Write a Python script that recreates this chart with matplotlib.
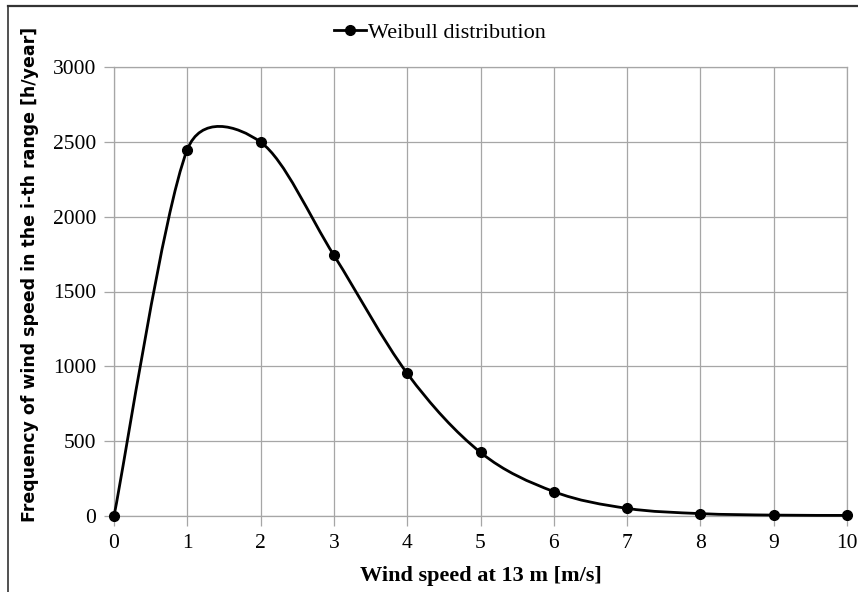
import numpy as np
import matplotlib
matplotlib.use("Agg")
import matplotlib.pyplot as plt
from matplotlib.path import Path
from matplotlib.patches import PathPatch
from matplotlib.lines import Line2D

# data
wind_speed = [0, 1, 2, 3, 4, 5, 6, 7, 8, 9, 10]
hours = [0, 2448, 2498, 1742, 953, 425, 163, 51, 16, 6, 4]
x_ticks = [0, 1, 2, 3, 4, 5, 6, 7, 8, 9, 10]
y_ticks = [0, 500, 1000, 1500, 2000, 2500, 3000]

serif = "Liberation Serif"
grid_col = "#a6a6a6"


def smooth_path(ax, xs, ys, k=1 / 6.0):
    # excel-like smoothed line, worked out in pixel space then mapped back
    tr = ax.transData
    pts = tr.transform(np.column_stack([xs, ys]).astype(float))
    n = len(pts)
    verts = [pts[0]]
    codes = [Path.MOVETO]
    for i in range(n - 1):
        p_prev = pts[i - 1] if i > 0 else pts[i]
        p_next2 = pts[i + 2] if i + 2 < n else pts[i + 1]
        chord = np.hypot(*(pts[i + 1] - pts[i]))
        a1 = k * (pts[i + 1] - p_prev)
        a2 = k * (p_next2 - pts[i])
        for a in (a1, a2):
            L = np.hypot(*a)
            if L > 0.5 * chord:
                a *= 0.5 * chord / L
        verts += [pts[i] + a1, pts[i + 1] - a2, pts[i + 1]]
        codes += [Path.CURVE4] * 3
    verts = tr.inverted().transform(np.array(verts))
    return Path(verts, codes)


fig = plt.figure(figsize=(8.58, 5.92), dpi=100)
ax = fig.add_axes([114 / 858, 1 - 516 / 592, 733 / 858, 449 / 592])
ax.set_xlim(0, 10)
ax.set_ylim(0, 3000)

ax.add_patch(PathPatch(smooth_path(ax, wind_speed, hours), fill=False,
                       edgecolor="black", lw=2.0, zorder=3, clip_on=False))
ax.plot(wind_speed, hours, linestyle="none", marker="o", ms=7,
        color="black", zorder=4, clip_on=False)

ax.set_xticks(x_ticks)
ax.set_yticks(y_ticks)
ax.grid(True, color=grid_col, lw=0.9)
ax.set_axisbelow(True)
for s in ax.spines.values():
    s.set_color(grid_col)
    s.set_linewidth(0.9)
ax.tick_params(axis="both", colors=grid_col, length=7, width=0.9,
               labelcolor="black", labelsize=15.5)
ax.tick_params(axis="y", pad=6)
ax.tick_params(axis="x", pad=6)
for lab in ax.get_xticklabels() + ax.get_yticklabels():
    lab.set_fontfamily(serif)

ax.set_xlabel("Wind speed at 13 m [m/s]", fontfamily=serif, fontweight="bold",
              fontsize=16, labelpad=9)
fig.text(30 / 858, 1 - 274 / 592,
         "Frequency of wind speed in the i-th range [h/year]",
         rotation=90, ha="center", va="center", fontsize=12.5,
         fontweight="bold", fontfamily="DejaVu Sans")

handle = Line2D([], [], color="black", lw=2.0, marker="o", ms=7)
fig.legend([handle], ["Weibull distribution"], loc="center",
           bbox_to_anchor=(440 / 858, 1 - 33 / 592), frameon=False,
           prop={"family": serif, "size": 16}, handlelength=1.4,
           handletextpad=0.1)

# outer frame (only left and top visible in the crop)
fig.add_artist(Line2D([8 / 858, 8 / 858], [0, 1 - 6 / 592],
                      transform=fig.transFigure, color="#333333", lw=1.2))
fig.add_artist(Line2D([8 / 858, 1], [1 - 6 / 592, 1 - 6 / 592],
                      transform=fig.transFigure, color="#333333", lw=1.6))

fig.savefig("out.png", dpi=100)
